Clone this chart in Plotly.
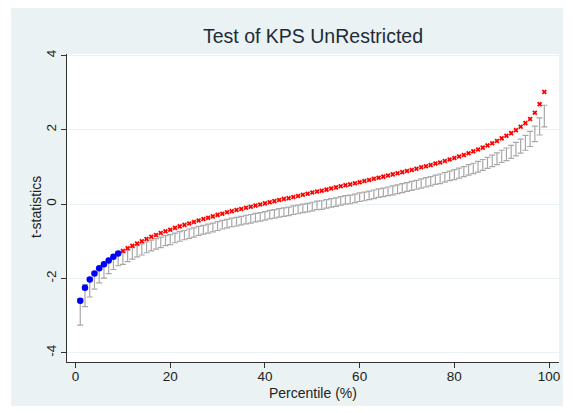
import plotly.graph_objects as go

# Percentile grid and statistics
percentile = list(range(1, 100))

t_stat = [
    -2.60, -2.25, -2.03, -1.87, -1.73, -1.62, -1.52, -1.42, -1.33, -1.26,
    -1.19, -1.12, -1.06, -1.00, -0.94, -0.88, -0.83, -0.78, -0.73, -0.69,
    -0.64, -0.60, -0.56, -0.52, -0.48, -0.44, -0.40, -0.37, -0.33, -0.29,
    -0.26, -0.22, -0.19, -0.16, -0.13, -0.10, -0.07, -0.04, -0.01, 0.02,
    0.05, 0.08, 0.11, 0.14, 0.16, 0.19, 0.22, 0.25, 0.28, 0.31,
    0.34, 0.36, 0.39, 0.42, 0.45, 0.48, 0.51, 0.53, 0.56, 0.59,
    0.62, 0.65, 0.68, 0.71, 0.74, 0.77, 0.80, 0.83, 0.86, 0.89,
    0.92, 0.95, 0.99, 1.02, 1.05, 1.09, 1.12, 1.16, 1.20, 1.24,
    1.28, 1.32, 1.37, 1.42, 1.47, 1.52, 1.58, 1.64, 1.70, 1.77,
    1.84, 1.91, 1.99, 2.08, 2.18, 2.29, 2.46, 2.69, 3.02,
]

ci_upper = [
    -2.55, -2.17, -1.98, -1.83, -1.70, -1.60, -1.50, -1.41, -1.32, -1.29,
    -1.23, -1.17, -1.12, -1.07, -1.02, -0.97, -0.93, -0.89, -0.85, -0.82,
    -0.78, -0.74, -0.71, -0.67, -0.64, -0.60, -0.57, -0.54, -0.51, -0.47,
    -0.44, -0.41, -0.38, -0.36, -0.33, -0.30, -0.28, -0.25, -0.23, -0.20,
    -0.17, -0.15, -0.12, -0.10, -0.08, -0.05, -0.03, 0.00, 0.02, 0.05,
    0.08, 0.09, 0.12, 0.15, 0.17, 0.20, 0.23, 0.24, 0.27, 0.30,
    0.32, 0.35, 0.38, 0.41, 0.43, 0.46, 0.49, 0.52, 0.55, 0.58,
    0.61, 0.64, 0.68, 0.71, 0.74, 0.78, 0.81, 0.85, 0.89, 0.93,
    0.97, 1.01, 1.06, 1.10, 1.15, 1.20, 1.26, 1.32, 1.38, 1.45,
    1.51, 1.58, 1.66, 1.75, 1.85, 1.96, 2.10, 2.32, 2.66,
]

ci_lower = [
    -3.26, -2.76, -2.50, -2.29, -2.12, -1.99, -1.87, -1.76, -1.66, -1.62,
    -1.55, -1.48, -1.42, -1.37, -1.31, -1.26, -1.21, -1.17, -1.12, -1.09,
    -1.04, -1.00, -0.96, -0.92, -0.89, -0.84, -0.81, -0.78, -0.75, -0.71,
    -0.67, -0.64, -0.61, -0.59, -0.56, -0.53, -0.51, -0.48, -0.46, -0.43,
    -0.40, -0.38, -0.35, -0.33, -0.31, -0.28, -0.26, -0.23, -0.21, -0.18,
    -0.15, -0.14, -0.11, -0.08, -0.06, -0.03, 0.00, 0.01, 0.04, 0.07,
    0.09, 0.12, 0.15, 0.18, 0.20, 0.23, 0.25, 0.28, 0.31, 0.34,
    0.37, 0.40, 0.43, 0.46, 0.49, 0.53, 0.55, 0.59, 0.63, 0.66,
    0.70, 0.74, 0.78, 0.82, 0.86, 0.91, 0.96, 1.01, 1.06, 1.12,
    1.17, 1.23, 1.30, 1.37, 1.45, 1.55, 1.68, 1.86, 2.08,
]

x_ticks = [0, 20, 40, 60, 80, 100]
y_ticks = [-4, -2, 0, 2, 4]
y_tick_text = ["-4", "-2", "0", "2", "4"]

BG = "#eaf2f3"
FONT = "Liberation Sans, Arial, sans-serif"
TEXT = "#222222"

W, H = 573, 413
ML, MR, MT, MB = 67, 14, 54, 51
PW, PH = W - ML - MR, H - MT - MB


def px_x(px):
    """Figure pixel column -> paper x coordinate."""
    return (px - ML) / PW


def px_y(py):
    """Figure pixel row -> paper y coordinate."""
    return (H - MB - py) / PH


fig = go.Figure()

# Capped spikes for the confidence band (drawn from the upper bound downward)
fig.add_trace(go.Scatter(
    x=percentile,
    y=ci_upper,
    mode="markers",
    marker=dict(size=1, color="rgba(0,0,0,0)"),
    error_y=dict(
        type="data",
        symmetric=False,
        array=[0] * len(ci_upper),
        arrayminus=[u - l for u, l in zip(ci_upper, ci_lower)],
        color="#a8a8a8",
        thickness=1.2,
        width=3,
    ),
    hoverinfo="skip",
    showlegend=False,
))

# Split statistics by whether they fall inside the band
inside = [l <= t <= u for t, l, u in zip(t_stat, ci_lower, ci_upper)]
x_in = [p for p, f in zip(percentile, inside) if f]
y_in = [t for t, f in zip(t_stat, inside) if f]
x_out = [p for p, f in zip(percentile, inside) if not f]
y_out = [t for t, f in zip(t_stat, inside) if not f]

fig.add_trace(go.Scatter(
    x=x_out, y=y_out, mode="markers",
    marker=dict(symbol="x", size=4.5, color="#ff0000", line=dict(width=0)),
    showlegend=False,
))
fig.add_trace(go.Scatter(
    x=x_in, y=y_in, mode="markers",
    marker=dict(symbol="circle", size=6.5, color="#0000ff", line=dict(width=0)),
    showlegend=False,
))

# White outer border around the light bluish-gray graph region
for x0, x1, y0, y1 in [
    (0, 11, 0, H),      # left strip
    (563, W, 0, H),     # right strip
    (0, W, 0, 8),       # top strip
    (0, W, 406, H),     # bottom strip
]:
    fig.add_shape(type="rect", xref="paper", yref="paper",
                  x0=px_x(x0), x1=px_x(x1), y0=px_y(y1), y1=px_y(y0),
                  fillcolor="white", line=dict(width=0), layer="below")

# Axis titles placed as annotations for tight spacing
fig.add_annotation(text="Percentile (%)", xref="paper", yref="paper",
                   x=0.5, y=px_y(393), xanchor="center", yanchor="middle",
                   showarrow=False, font=dict(family=FONT, size=14, color=TEXT))
fig.add_annotation(text="t-statistics", xref="paper", yref="paper",
                   x=px_x(36), y=px_y(207), xanchor="center", yanchor="middle",
                   textangle=-90, showarrow=False,
                   font=dict(family=FONT, size=14, color=TEXT))

fig.update_layout(
    width=W, height=H,
    margin=dict(l=ML, r=MR, t=MT, b=MB),
    paper_bgcolor=BG,
    plot_bgcolor="white",
    font=dict(family=FONT, size=13, color=TEXT),
    title=dict(
        text="Test of KPS UnRestricted",
        x=0.5, xref="paper", xanchor="center",
        y=1 - 36 / H, yanchor="middle",
        font=dict(family=FONT, size=19.5, color="#1e2b38"),
    ),
    showlegend=False,
)

fig.update_xaxes(
    range=[-1.8, 102.1],
    tickvals=x_ticks,
    ticks="outside", ticklen=5, tickwidth=1, tickcolor="#333333",
    ticklabelstandoff=-3,
    showline=True, linecolor="#333333", linewidth=1,
    showgrid=False, zeroline=False,
    tickfont=dict(size=13.5, color=TEXT),
)
fig.update_yaxes(
    range=[-4.25, 4.04],
    tickvals=y_ticks,
    ticktext=y_tick_text,
    tickangle=-90,
    ticks="outside", ticklen=5, tickwidth=1, tickcolor="#333333",
    showline=True, linecolor="#333333", linewidth=1,
    showgrid=True, gridcolor=BG, gridwidth=1,
    zeroline=False,
    tickfont=dict(size=13.5, color=TEXT),
)

fig.write_html("out.html")
